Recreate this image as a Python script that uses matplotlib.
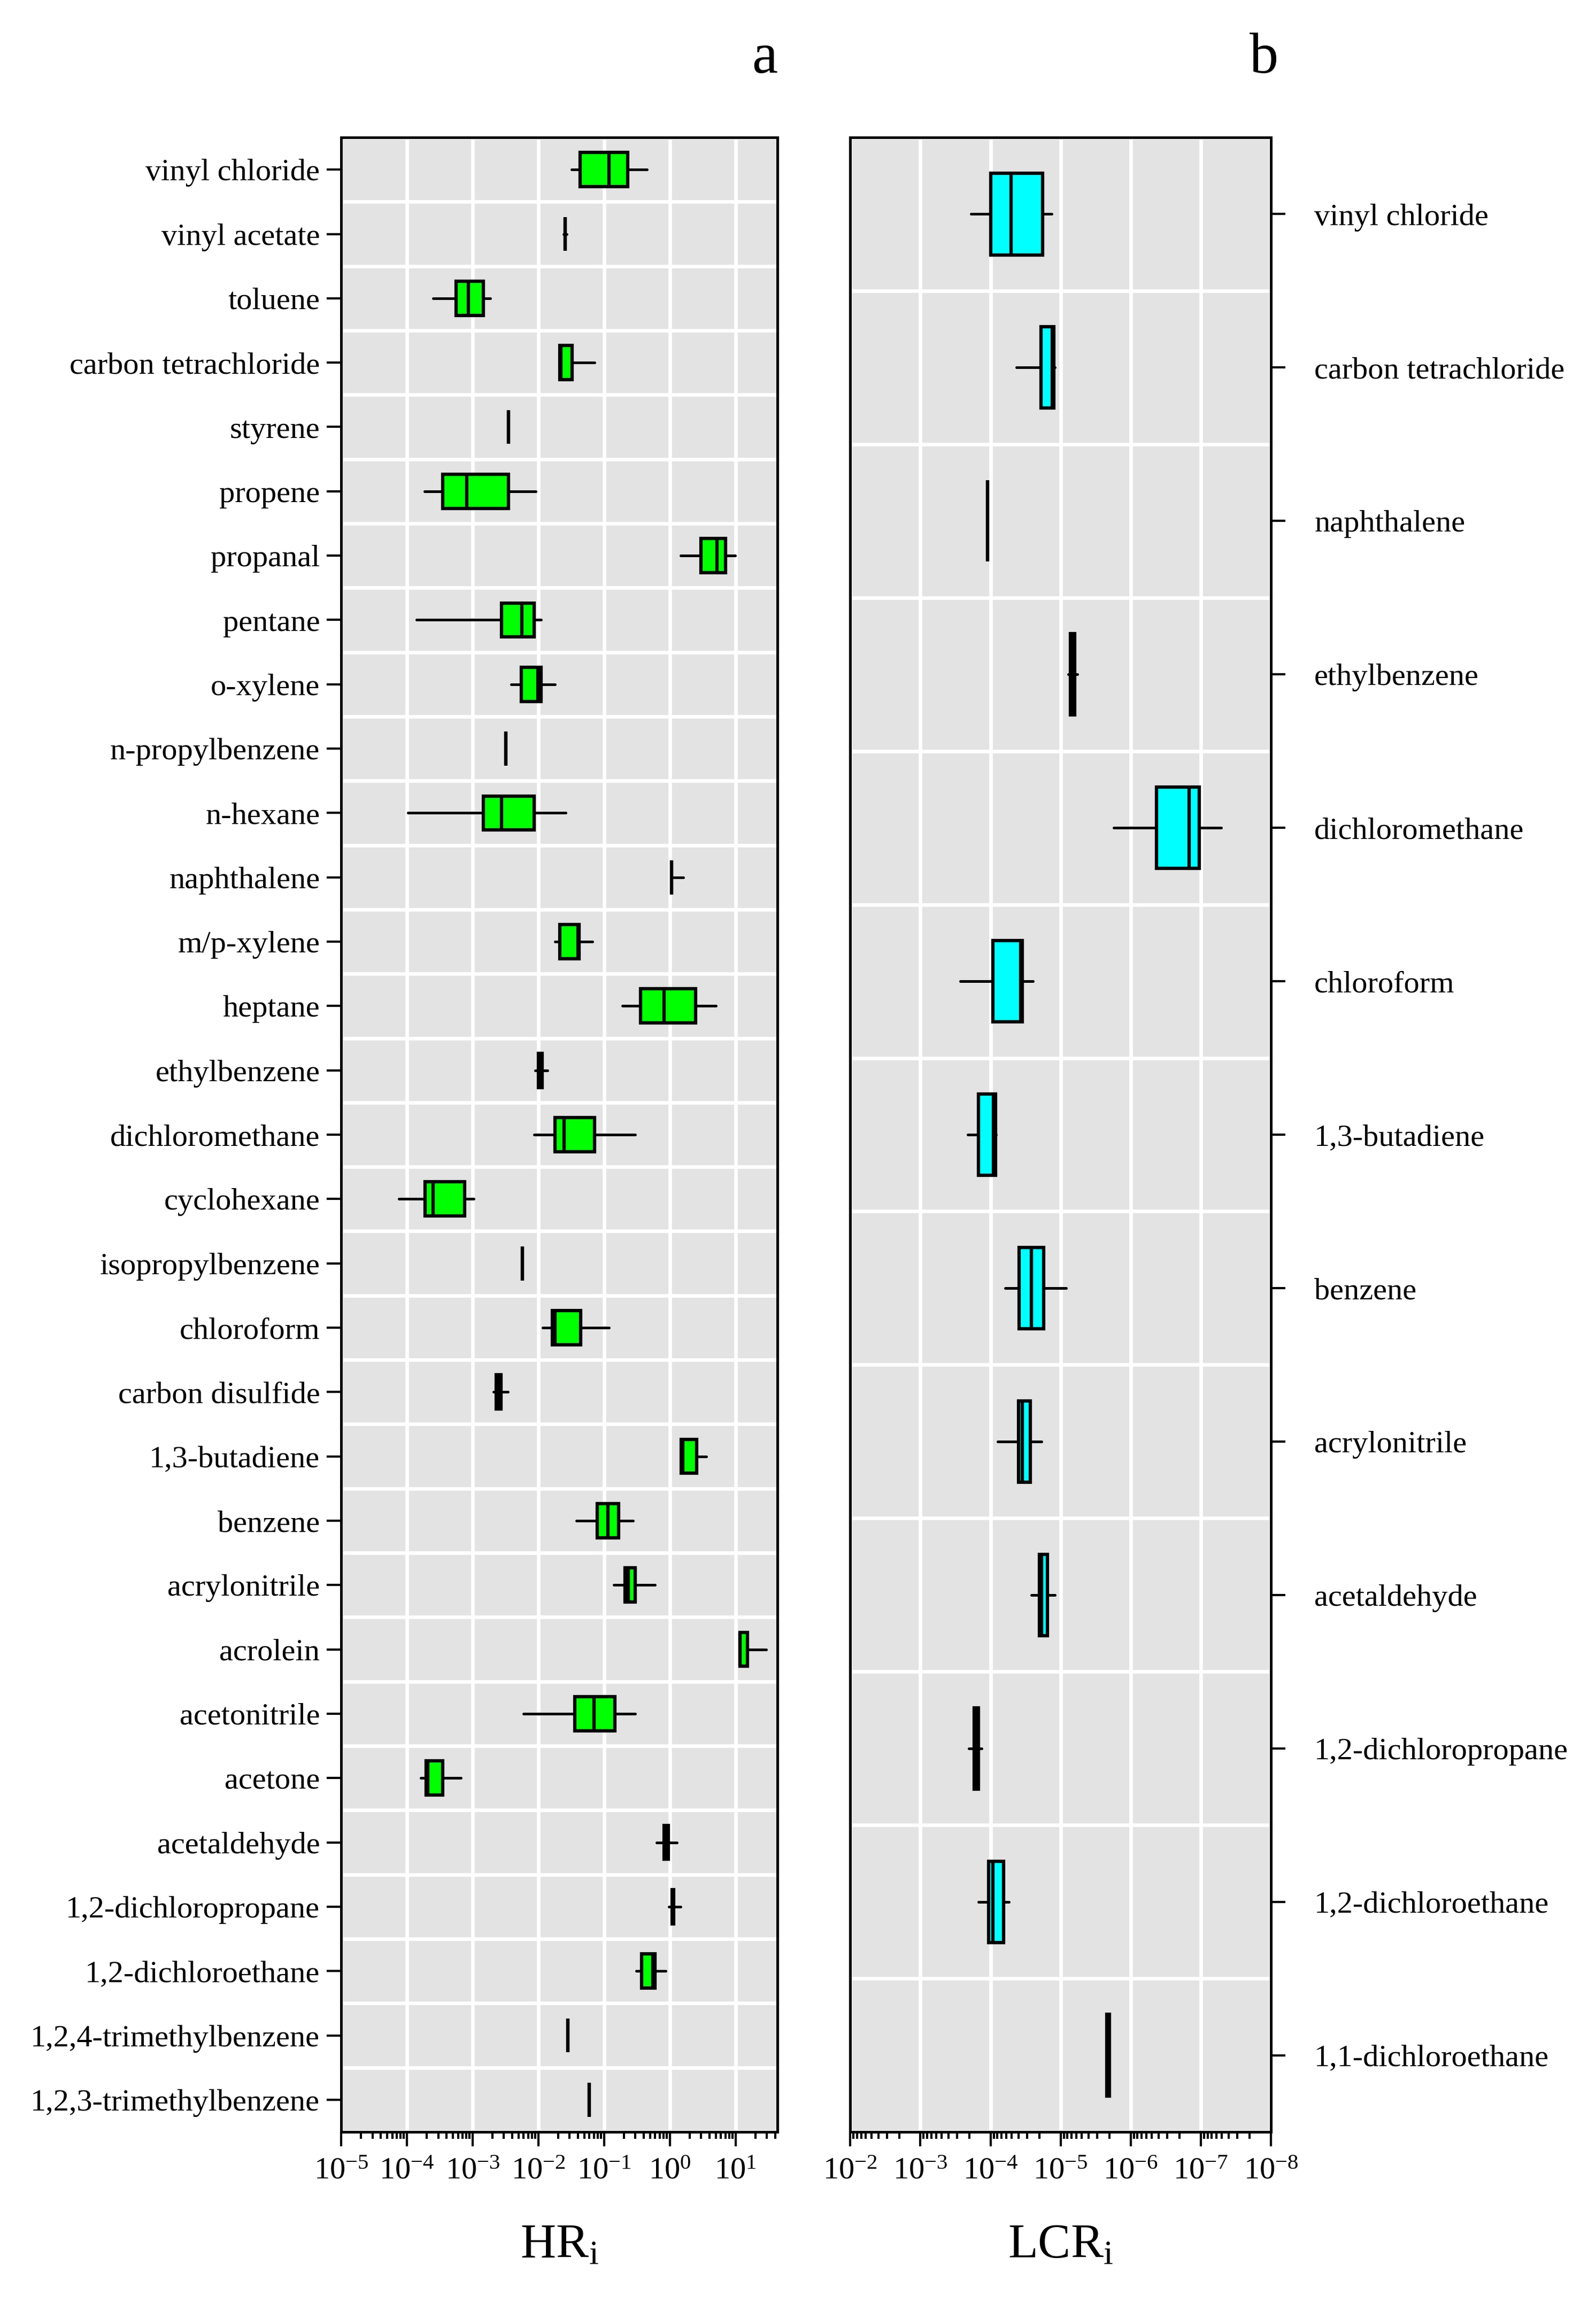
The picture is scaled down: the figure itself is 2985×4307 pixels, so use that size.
import numpy as np
import matplotlib
matplotlib.use("Agg")
import matplotlib.pyplot as plt
from matplotlib.ticker import LogLocator, NullFormatter, LogFormatterMathtext

plt.rcParams["font.family"] = "serif"
plt.rcParams["font.serif"] = ["Liberation Serif", "DejaVu Serif"]
plt.rcParams["mathtext.fontset"] = "custom"
plt.rcParams["mathtext.rm"] = "Liberation Serif"
plt.rcParams["mathtext.it"] = "Liberation Serif:italic"

# ---- panel a: HRi ----
hr_names = [
    "vinyl chloride", "vinyl acetate", "toluene", "carbon tetrachloride", "styrene",
    "propene", "propanal", "pentane", "o-xylene", "n-propylbenzene", "n-hexane",
    "naphthalene", "m/p-xylene", "heptane", "ethylbenzene", "dichloromethane",
    "cyclohexane", "isopropylbenzene", "chloroform", "carbon disulfide",
    "1,3-butadiene", "benzene", "acrylonitrile", "acrolein", "acetonitrile",
    "acetone", "acetaldehyde", "1,2-dichloropropane", "1,2-dichloroethane",
    "1,2,4-trimethylbenzene", "1,2,3-trimethylbenzene",
]
hr_lo = [0.032, 0.024, 2.5e-4, 0.021, 3.55e-3, 1.86e-4, 1.45, 1.4e-4, 3.9e-3, 3.2e-3,
         1.05e-4, 1.05, 0.0178, 0.19, 8.9e-3, 8.7e-3, 7.6e-5, 5.75e-3, 0.0117, 2.1e-3,
         1.45, 0.038, 0.141, 11.7, 6.0e-3, 1.62e-4, 0.63, 0.97, 0.31, 0.028, 0.059]
hr_q1 = [0.043, 0.0255, 5.6e-4, 0.0214, 3.55e-3, 3.5e-4, 3.0, 2.75e-3, 5.5e-3, 3.2e-3,
         1.45e-3, 1.07, 0.0214, 0.36, 0.0100, 0.0178, 1.9e-4, 5.75e-3, 0.0162, 2.3e-3,
         1.48, 0.079, 0.209, 11.7, 0.036, 1.95e-4, 0.82, 1.09, 0.37, 0.028, 0.059]
hr_med = [0.12, 0.0255, 8.7e-4, 0.022, 3.55e-3, 8.1e-4, 5.2, 5.6e-3, 9.8e-3, 3.2e-3,
          2.75e-3, 1.07, 0.040, 0.82, 0.0107, 0.0245, 2.5e-4, 5.75e-3, 0.0178, 2.5e-3,
          1.58, 0.115, 0.234, 11.8, 0.071, 2.1e-4, 0.88, 1.12, 0.55, 0.028, 0.059]
hr_q3 = [0.23, 0.0255, 1.45e-3, 0.0324, 3.55e-3, 3.5e-3, 7.1, 8.7e-3, 0.011, 3.2e-3,
         8.7e-3, 1.07, 0.042, 2.45, 0.0115, 0.072, 7.6e-4, 5.75e-3, 0.0437, 2.7e-3,
         2.57, 0.166, 0.30, 15.3, 0.145, 3.5e-4, 0.95, 1.15, 0.60, 0.028, 0.059]
hr_hi = [0.45, 0.027, 1.86e-3, 0.072, 3.55e-3, 9.1e-3, 9.8, 0.011, 0.018, 3.2e-3,
         0.026, 1.6, 0.066, 5.0, 0.0138, 0.295, 1.05e-3, 5.75e-3, 0.12, 3.47e-3,
         3.6, 0.275, 0.60, 29.5, 0.295, 6.6e-4, 1.29, 1.45, 0.87, 0.028, 0.059]

# ---- panel b: LCRi ----
lcr_names = [
    "vinyl chloride", "carbon tetrachloride", "naphthalene", "ethylbenzene",
    "dichloromethane", "chloroform", "1,3-butadiene", "benzene", "acrylonitrile",
    "acetaldehyde", "1,2-dichloropropane", "1,2-dichloroethane", "1,1-dichloroethane",
]
lcr_lo = [1.35e-5, 1.2e-5, 1.1e-4, 5.8e-6, 5.1e-8, 2.5e-5, 8.3e-5, 8.3e-6, 1.86e-5,
          1.2e-5, 1.35e-4, 5.5e-5, 2.0e-6]
lcr_q1 = [1.82e-5, 1.26e-5, 1.1e-4, 6.3e-6, 1.05e-7, 3.5e-5, 8.5e-5, 1.74e-5, 2.7e-5,
          1.55e-5, 1.5e-4, 6.5e-5, 2.0e-6]
lcr_med = [5.1e-5, 1.32e-5, 1.1e-4, 6.8e-6, 1.48e-7, 3.7e-5, 9.1e-5, 2.6e-5, 3.5e-5,
           1.86e-5, 1.58e-4, 9.3e-5, 2.1e-6]
lcr_q3 = [1.0e-4, 1.9e-5, 1.1e-4, 7.2e-6, 4.3e-7, 9.3e-5, 1.48e-4, 3.9e-5, 4.0e-5,
          2.0e-5, 1.7e-4, 1.07e-4, 2.2e-6]
lcr_hi = [1.9e-4, 4.3e-5, 1.1e-4, 7.8e-6, 1.74e-6, 2.7e-4, 2.1e-4, 6.2e-5, 7.9e-5,
          2.6e-5, 2.04e-4, 1.5e-4, 2.2e-6]


def draw_panel(ax, names, lo, q1, med, q3, hi, color):
    stats = [dict(whislo=a, q1=b, med=c, q3=d, whishi=e, fliers=[])
             for a, b, c, d, e in zip(lo, q1, med, q3, hi)]
    n = len(names)
    ax.set_facecolor("#E3E3E3")
    ax.bxp(stats, positions=np.arange(n), orientation="horizontal", widths=0.53,
           patch_artist=True, showcaps=False, showfliers=False,
           boxprops=dict(facecolor=color, edgecolor="black", linewidth=1.5),
           medianprops=dict(color="black", linewidth=1.5),
           whiskerprops=dict(color="black", linewidth=1.2, solid_capstyle="round"))
    ax.set_xscale("log")
    ax.set_yticks(np.arange(n))
    ax.set_yticklabels(names, fontsize=14)
    ax.set_yticks(np.arange(n + 1) - 0.5, minor=True)
    ax.set_ylim(n - 0.5, -0.5)
    ax.xaxis.set_major_locator(LogLocator(base=10, numticks=20))
    ax.xaxis.set_minor_locator(LogLocator(base=10, subs=np.arange(2, 10), numticks=20))
    ax.xaxis.set_major_formatter(LogFormatterMathtext())
    ax.xaxis.set_minor_formatter(NullFormatter())
    ax.set_axisbelow(True)
    ax.grid(axis="x", which="major", color="white", linewidth=1.6)
    ax.grid(axis="y", which="minor", color="white", linewidth=1.6)
    ax.tick_params(axis="y", which="minor", length=0)
    ax.tick_params(axis="y", which="major", length=6.5, width=1.0, direction="out")
    ax.tick_params(axis="x", which="major", length=6.5, width=1.0, labelsize=14, pad=5)
    ax.tick_params(axis="x", which="minor", length=3, width=1.0)
    for s in ax.spines.values():
        s.set_linewidth(1.2)


fig = plt.figure(figsize=(9.95, 14.357), dpi=300)
ax1 = fig.add_axes([0.2137, 0.0743, 0.2735, 0.866])
ax2 = fig.add_axes([0.5328, 0.0743, 0.2635, 0.866])

draw_panel(ax1, hr_names, hr_lo, hr_q1, hr_med, hr_q3, hr_hi, "#00FF00")
ax1.set_xlim(1e-5, 43.6)
ax1.tick_params(axis="y", pad=3)
ax1.set_xlabel(r"HR$_\mathregular{i}$", fontsize=22, labelpad=17)

draw_panel(ax2, lcr_names, lcr_lo, lcr_q1, lcr_med, lcr_q3, lcr_hi, "#00FFFF")
ax2.set_xlim(1e-2, 1e-8)
ax2.yaxis.tick_right()
ax2.tick_params(axis="y", pad=13)
ax2.set_xlabel(r"LCR$_\mathregular{i}$", fontsize=22, labelpad=17)

fig.text(0.479, 0.9745, "a", fontsize=26, ha="center", va="center")
fig.text(0.792, 0.9745, "b", fontsize=26, ha="center", va="center")

fig.savefig("out.png", dpi=300)
